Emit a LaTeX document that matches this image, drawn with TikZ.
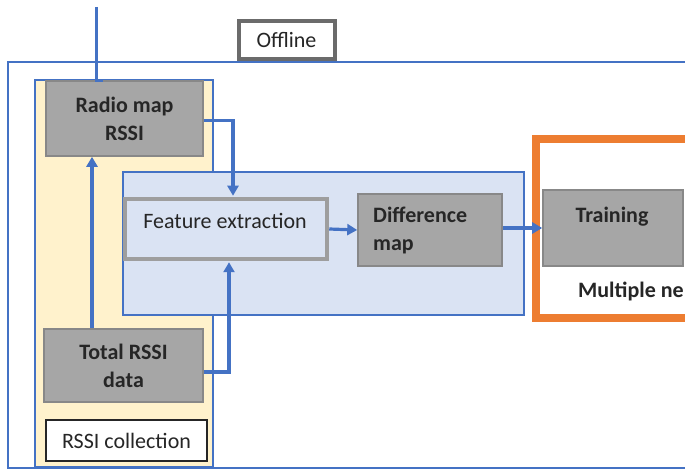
\documentclass[tikz,border=0pt]{standalone}
\usepackage{fontspec}
\setmainfont{Carlito}
\usetikzlibrary{arrows.meta,calc}

\definecolor{linkblue}{HTML}{4472C4}
\definecolor{panelblue}{HTML}{DAE3F3}
\definecolor{panelyellow}{HTML}{FFF2CC}
\definecolor{boxgray}{HTML}{A6A6A6}
\definecolor{boxedge}{HTML}{888888}
\definecolor{accent}{HTML}{ED7D31}
\definecolor{ink}{HTML}{262626}

\tikzset{
  graybox/.style={draw=boxedge, line width=1.6pt, fill=boxgray, inner sep=0pt,
    align=center, text=ink, font=\fontsize{22}{28}\selectfont\bfseries},
  tagbox/.style={fill=white, inner sep=0pt, text=ink, font=\fontsize{22}{26}\selectfont},
  conn/.style={draw=linkblue, line width=3.2pt,
    -{Triangle[length=10pt,width=11pt]}},
  plainconn/.style={draw=linkblue, line width=3.2pt},
  label/.style={inner sep=0pt, text=ink, font=\fontsize{22}{28}\selectfont},
  boldlabel/.style={label, font=\fontsize{22}{28}\selectfont\bfseries},
}

\begin{document}
\begin{tikzpicture}[x=1pt,y=-1pt]
  \clip (0,0) rectangle (685,470);
  \fill[white] (0,0) rectangle (685,470);

  % offline stage frame
  \draw[linkblue, line width=2.2pt] (8,62) rectangle (720,468);

  % RSSI collection panel
  \draw[linkblue, line width=2pt, fill=panelyellow] (35,80) rectangle (213,467);

  % processing panel
  \draw[linkblue, line width=2pt, fill=panelblue] (123,172) rectangle (524,315);

  % network frame
  \draw[accent, line width=8.5pt] (536,139) rectangle (720,318);

  % stage tag
  \node[tagbox, draw=black!58, line width=4pt, minimum width=96pt, minimum height=38pt]
    (offline) at (286.5,40.5) {Offline};

  % boxes
  \node[graybox, minimum width=157pt, minimum height=75pt] (radio) at (124.5,118.5)
    {Radio map\\RSSI};
  \node[graybox, minimum width=159pt, minimum height=73pt] (total) at (123.5,365.5)
    {Total RSSI\\data};
  \node[tagbox, draw=black!85, line width=2.4pt, minimum width=161pt, minimum height=41pt]
    (collect) at (126.5,440.5) {RSSI collection};

  \node[draw=black!38, line width=4.5pt, fill=panelblue, inner sep=0pt,
    minimum width=202pt, minimum height=60pt] (feat) at (226,229) {};
  \node[label] (featlbl) at (225,221) {Feature extraction};

  \node[graybox, minimum width=144pt, minimum height=72pt] (diff) at (430,230) {};
  \node[boldlabel, align=left, anchor=west] (difflbl) at (373,231) {Difference\\map};

  \node[graybox, minimum width=140pt, minimum height=76pt] (train) at (613,228) {};
  \node[boldlabel] (trainlbl) at (612,217) {Training};

  \node[boldlabel, anchor=west] (multi) at (578,291) {Multiple ne};

  % connectors
  \coordinate (feedtop) at (96.5,7);
  \coordinate (uplink) at (92,0);
  \draw[plainconn] (feedtop) -- (feedtop |- radio.north) -- ++(6,0);
  \draw[conn] (uplink |- total.north) -- (uplink |- radio.south);
  \draw[conn] ($(radio.east)+(0,2)$) -| ($(feat.north)+(7,-1)$);
  \draw[conn] ($(total.east)+(0,6.5)$) -| ($(feat.south)+(3,1)$);
  \draw[conn] (feat.east) -- (diff.west);
  \draw[conn] (diff.east |- train.west) -- (train.west);
\end{tikzpicture}
\end{document}
